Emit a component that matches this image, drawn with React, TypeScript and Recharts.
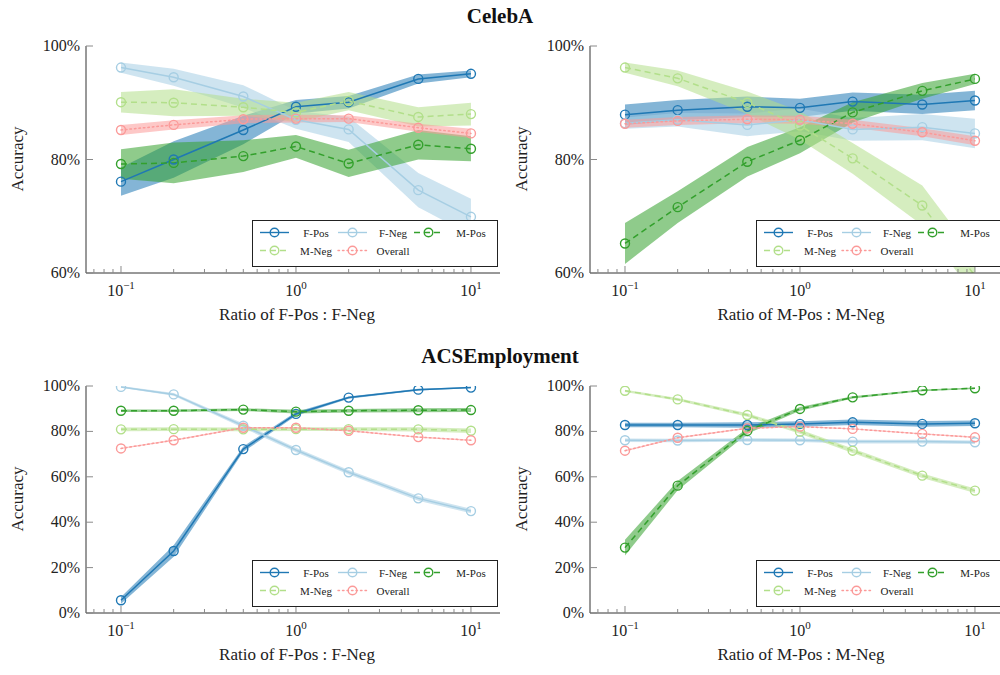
import React from 'react'
import { ComposedChart, Line, Area, XAxis, YAxis } from 'recharts'

const FONT = '"Liberation Serif", "DejaVu Serif", serif'

// x values (ratio, log scale)
const ratios = [0.1, 0.2, 0.5, 1, 2, 5, 10]
const xTicks = [0.07, 0.08, 0.09, 0.1, 0.2, 0.3, 0.4, 0.5, 0.6, 0.7, 0.8, 0.9, 1, 2, 3, 4, 5, 6, 7, 8, 9, 10]
const decadeTicks = [0.1, 1, 10]
const decadeExps = ['\u22121', '0', '1']

const seriesNames = ['F-Pos', 'F-Neg', 'M-Pos', 'M-Neg', 'Overall']
const seriesColors = ['#1f78b4', '#a6cee3', '#33a02c', '#b2df8a', '#fb9a99']
const seriesDash = ['', '', '6 4', '6 4', '1.5 3']

// CelebA, varying F-Pos : F-Neg  (rows follow seriesNames)
const celebaFMean = [
  [76.1, 80.0, 85.2, 89.3, 90.1, 94.2, 95.1],
  [96.2, 94.5, 91.1, 87.0, 85.3, 74.6, 69.9],
  [79.2, 79.4, 80.6, 82.3, 79.3, 82.6, 81.9],
  [90.1, 90.0, 89.2, 88.3, 90.3, 87.5, 88.0],
  [85.2, 86.1, 87.1, 87.2, 87.2, 85.6, 84.6],
]
const celebaFErr = [
  [2.5, 3.2, 2.5, 1.2, 1.1, 0.8, 0.6],
  [0.9, 1.5, 2.0, 1.6, 2.2, 3.0, 3.2],
  [2.6, 3.6, 2.8, 2.0, 2.4, 2.6, 2.2],
  [1.8, 2.4, 1.5, 1.7, 1.6, 1.7, 2.0],
  [0.9, 0.8, 0.7, 0.7, 0.6, 0.7, 0.8],
]

// CelebA, varying M-Pos : M-Neg
const celebaMMean = [
  [87.9, 88.7, 89.3, 89.1, 90.2, 89.7, 90.4],
  [86.4, 87.0, 86.1, 87.0, 85.3, 85.7, 84.6],
  [65.2, 71.6, 79.6, 83.4, 88.3, 92.1, 94.2],
  [96.2, 94.3, 90.0, 86.0, 80.2, 71.9, 59.5],
  [86.3, 86.8, 87.1, 87.0, 86.3, 84.8, 83.3],
]
const celebaMErr = [
  [1.8, 1.8, 1.8, 1.6, 1.6, 1.7, 1.7],
  [1.0, 1.2, 2.0, 2.0, 2.0, 2.3, 2.6],
  [3.6, 2.8, 2.6, 2.3, 1.8, 1.4, 0.9],
  [0.9, 1.4, 2.0, 2.5, 2.7, 3.5, 3.6],
  [0.7, 0.7, 0.7, 0.7, 0.7, 0.7, 0.8],
]

// ACSEmployment, varying F-Pos : F-Neg
const acsFMean = [
  [5.6, 27.3, 72.2, 87.7, 94.9, 98.4, 99.3],
  [99.6, 96.3, 82.5, 71.8, 62.0, 50.5, 44.9],
  [89.1, 89.1, 89.6, 88.7, 89.1, 89.3, 89.4],
  [80.9, 81.0, 80.9, 81.0, 81.0, 80.9, 80.3],
  [72.5, 76.1, 81.6, 81.6, 80.3, 77.5, 76.1],
]
const acsFErr = [
  [1.5, 2.5, 1.2, 0.8, 0.5, 0.4, 0.3],
  [0.4, 0.6, 1.0, 1.0, 1.0, 1.0, 1.0],
  [0.6, 0.6, 0.6, 0.8, 0.8, 0.9, 0.9],
  [0.8, 0.8, 0.8, 0.8, 0.8, 0.9, 1.0],
  [0.3, 0.3, 0.3, 0.3, 0.3, 0.3, 0.3],
]

// ACSEmployment, varying M-Pos : M-Neg
const acsMMean = [
  [82.8, 82.8, 82.8, 83.3, 84.0, 83.3, 83.6],
  [76.1, 76.0, 76.2, 76.1, 75.5, 75.5, 75.2],
  [28.8, 56.1, 80.2, 89.9, 95.0, 98.1, 99.0],
  [97.9, 94.1, 87.2, 79.9, 71.5, 60.5, 53.9],
  [71.5, 77.2, 81.4, 82.1, 81.1, 78.9, 77.4],
]
const acsMErr = [
  [1.0, 1.0, 1.2, 1.2, 1.2, 1.3, 1.2],
  [0.8, 0.8, 0.8, 0.8, 0.8, 0.8, 0.8],
  [3.5, 2.0, 1.2, 0.8, 0.5, 0.4, 0.3],
  [0.5, 0.6, 0.8, 0.9, 1.0, 1.0, 1.0],
  [0.3, 0.3, 0.3, 0.3, 0.3, 0.3, 0.3],
]

const celebaTicks = [60, 80, 100]
const acsTicks = [0, 20, 40, 60, 80, 100]

const PLOT_W = 414
const PLOT_H = 227
const Y_AXIS_W = 70
const X_AXIS_H = 40
const X_DOMAIN = [Math.pow(10, -1.2), Math.pow(10, 1.166)]

const XTick = (props: any) => {
  const { x, y, payload } = props
  const idx = decadeTicks.indexOf(payload.value)
  const major = idx >= 0
  return (
    <g>
      <line x1={x} x2={x} y1={y} y2={y - (major ? 7 : 4)} stroke="#8a8a8a" strokeWidth={1} />
      {major && (
        <text x={x} y={y + 23} textAnchor="middle" fontSize={16} fill="#222" style={{ fontFamily: FONT }}>
          10<tspan dy={-7} fontSize={11}>{decadeExps[idx]}</tspan>
        </text>
      )}
    </g>
  )
}

const YTick = (props: any) => {
  const { x, y, payload } = props
  return (
    <g>
      <line x1={x} x2={x + 7} y1={y} y2={y} stroke="#8a8a8a" strokeWidth={1} />
      <text x={x - 6} y={y + 5} textAnchor="end" fontSize={16} fill="#222" style={{ fontFamily: FONT }}>
        {payload.value}%
      </text>
    </g>
  )
}

function Legend2({ left, top }: { left: number; top: number }) {
  const cols = [8, 86, 162]
  const textX = [64, 141, 219]
  const rows = [12.5, 30.5]
  return (
    <svg
      width={246}
      height={47}
      style={{ position: 'absolute', left, top, background: '#fff' }}
    >
      <rect x={0.5} y={0.5} width={245} height={46} fill="#fff" stroke="#222" strokeWidth={1} />
      {seriesNames.map((name, s) => {
        const c = s % 3
        const r = Math.floor(s / 3)
        const sx = cols[c]
        const sy = rows[r]
        return (
          <g key={name}>
            <line
              x1={sx}
              x2={sx + 29}
              y1={sy}
              y2={sy}
              stroke={seriesColors[s]}
              strokeWidth={1.4}
              strokeDasharray={seriesDash[s] || undefined}
              strokeLinecap={s === 4 ? 'round' : 'butt'}
            />
            <circle cx={sx + 14.5} cy={sy} r={4.3} fill="none" stroke={seriesColors[s]} strokeWidth={1.4} />
            <text x={textX[c]} y={sy + 4} textAnchor="middle" fontSize={11} fill="#222" style={{ fontFamily: FONT }}>
              {name}
            </text>
          </g>
        )
      })}
    </svg>
  )
}

function Panel({
  left,
  top,
  means,
  errs,
  yMin,
  yTicks,
  xTitle,
}: {
  left: number
  top: number
  means: number[][]
  errs: number[][]
  yMin: number
  yTicks: number[]
  xTitle: string
}) {
  const rows = ratios.map((r, i) => {
    const row: any = { x: r }
    means.forEach((m, s) => {
      row[`m${s}`] = m[i]
      row[`b${s}`] = [m[i] - errs[s][i], m[i] + errs[s][i]]
    })
    return row
  })

  const makeDot = (color: string) => (p: any) => {
    const key = `d${p.index}`
    if (p.value == null || p.value < yMin) return <g key={key} />
    return <circle key={key} cx={p.cx} cy={p.cy} r={4.5} fill="none" stroke={color} strokeWidth={1.4} />
  }

  return (
    <>
      <div style={{ position: 'absolute', left: left - Y_AXIS_W, top: top - 10 }}>
        <ComposedChart
          width={Y_AXIS_W + PLOT_W + 5}
          height={10 + PLOT_H + X_AXIS_H}
          data={rows}
          margin={{ top: 10, right: 5, left: 0, bottom: 0 }}
        >
          <XAxis
            dataKey="x"
            type="number"
            scale="log"
            domain={X_DOMAIN}
            allowDataOverflow
            ticks={xTicks}
            interval={0}
            tick={<XTick />}
            tickLine={false}
            tickSize={0}
            tickMargin={0}
            height={X_AXIS_H}
            axisLine={{ stroke: '#333', strokeWidth: 1 }}
          />
          <YAxis
            type="number"
            domain={[yMin, 100]}
            allowDataOverflow
            ticks={yTicks}
            interval={0}
            tick={<YTick />}
            tickLine={false}
            tickSize={0}
            tickMargin={0}
            width={Y_AXIS_W}
            axisLine={{ stroke: '#333', strokeWidth: 1 }}
          />
          {seriesNames.map((name, s) => (
            <Area
              key={`band-${name}`}
              dataKey={`b${s}`}
              type="linear"
              stroke="none"
              fill={seriesColors[s]}
              fillOpacity={0.55}
              dot={false}
              activeDot={false}
              isAnimationActive={false}
            />
          ))}
          {seriesNames.map((name, s) => (
            <Line
              key={`line-${name}`}
              dataKey={`m${s}`}
              name={name}
              type="linear"
              stroke={seriesColors[s]}
              strokeWidth={1.5}
              strokeDasharray={seriesDash[s] || undefined}
              strokeLinecap={s === 4 ? 'round' : 'butt'}
              dot={makeDot(seriesColors[s])}
              activeDot={false}
              isAnimationActive={false}
            />
          ))}
        </ComposedChart>
      </div>
      <Legend2 left={left + PLOT_W - 248} top={top + PLOT_H - 53} />
      <div
        style={{
          position: 'absolute',
          left: left + 211 - 150,
          width: 300,
          top: top + PLOT_H + 32,
          fontSize: 17,
          fontFamily: FONT,
          color: '#222',
          whiteSpace: 'nowrap',
          textAlign: 'center',
        }}
      >
        {xTitle}
      </div>
      <div
        style={{
          position: 'absolute',
          left: left - 68 - 50,
          top: top + PLOT_H / 2 - 11,
          width: 100,
          textAlign: 'center',
          fontSize: 17,
          fontFamily: FONT,
          color: '#222',
          transform: 'rotate(-90deg)',
        }}
      >
        Accuracy
      </div>
    </>
  )
}

export default function App() {
  const titleStyle: React.CSSProperties = {
    position: 'absolute',
    left: 0,
    width: 1000,
    textAlign: 'center',
    fontSize: 21,
    fontWeight: 'bold',
    fontFamily: FONT,
    color: '#111',
  }
  return (
    <div
      style={{
        position: 'absolute',
        left: 0,
        top: 0,
        width: 1000,
        height: 675,
        overflow: 'hidden',
        background: '#fff',
      }}
    >
      <div style={{ ...titleStyle, top: 4 }}>CelebA</div>
      <div style={{ ...titleStyle, top: 344 }}>ACSEmployment</div>
      <Panel left={86} top={46} means={celebaFMean} errs={celebaFErr} yMin={60} yTicks={celebaTicks} xTitle="Ratio of F-Pos : F-Neg" />
      <Panel left={590} top={46} means={celebaMMean} errs={celebaMErr} yMin={60} yTicks={celebaTicks} xTitle="Ratio of M-Pos : M-Neg" />
      <Panel left={86} top={386} means={acsFMean} errs={acsFErr} yMin={0} yTicks={acsTicks} xTitle="Ratio of F-Pos : F-Neg" />
      <Panel left={590} top={386} means={acsMMean} errs={acsMErr} yMin={0} yTicks={acsTicks} xTitle="Ratio of M-Pos : M-Neg" />
    </div>
  )
}
